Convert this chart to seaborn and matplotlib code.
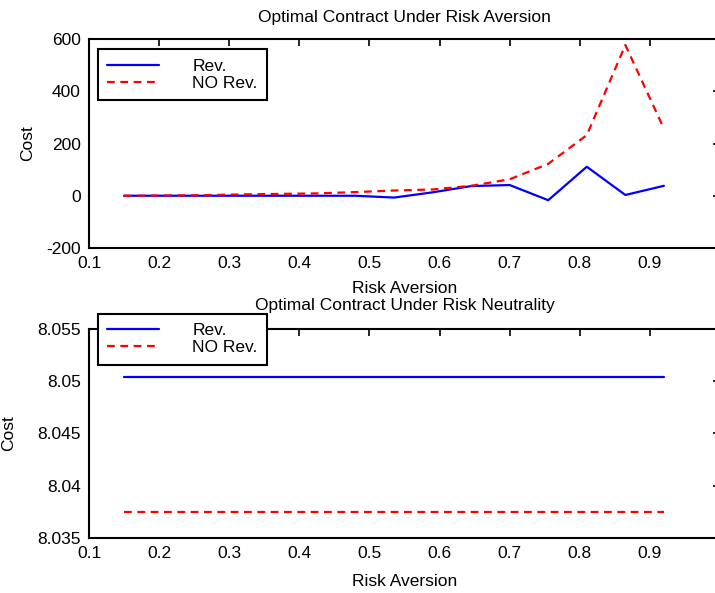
import numpy as np
import pandas as pd
import matplotlib
matplotlib.use("Agg")
import matplotlib.pyplot as plt
import seaborn as sns

# ---- data ----
risk_aversion = [0.15, 0.205, 0.26, 0.315, 0.37, 0.425, 0.48, 0.535,
                 0.59, 0.645, 0.70, 0.755, 0.81, 0.865, 0.92]
cost_rev_averse = [0, 0, 0, 0, 0, 0, 0, -7, 13, 37, 41, -17, 111, 3, 38]
cost_norev_averse = [0, 1, 2, 5, 7, 9, 14, 20, 24, 38, 63, 122, 232, 577, 257]
cost_rev_neutral = [8.0504] * len(risk_aversion)
cost_norev_neutral = [8.0375] * len(risk_aversion)
series_names = ["Rev.", "NO Rev."]
xticks = [0.1, 0.2, 0.3, 0.4, 0.5, 0.6, 0.7, 0.8, 0.9]
yticks_top = [-200, 0, 200, 400, 600]
yticks_bottom = [8.035, 8.04, 8.045, 8.05, 8.055]
ytick_labels_bottom = ["8.035", "8.04", "8.045", "8.05", "8.055"]

sns.set_style("white")
plt.rcParams["font.family"] = ["Liberation Sans Narrow", "Liberation Sans", "DejaVu Sans"]
plt.rcParams["font.size"] = 12
plt.rcParams["axes.unicode_minus"] = False
for k in ["text.color", "axes.labelcolor", "xtick.color", "ytick.color"]:
    plt.rcParams[k] = "black"

fig = plt.figure(figsize=(7.15, 5.93), dpi=100)
W, H = 715, 593

def axpos(left, top, right, bottom):
    return [left / W, 1 - bottom / H, (right - left) / W, (bottom - top) / H]

ax1 = fig.add_axes(axpos(89, 39, 720, 248))
ax2 = fig.add_axes(axpos(89, 329, 720, 538))

df_top = pd.DataFrame({
    "x": risk_aversion * 2,
    "y": cost_rev_averse + cost_norev_averse,
    "s": [series_names[0]] * len(risk_aversion) + [series_names[1]] * len(risk_aversion),
})
df_bot = pd.DataFrame({
    "x": risk_aversion * 2,
    "y": cost_rev_neutral + cost_norev_neutral,
    "s": [series_names[0]] * len(risk_aversion) + [series_names[1]] * len(risk_aversion),
})

palette = {"Rev.": "#0000ff", "NO Rev.": "#ff0000"}
dashes = {"Rev.": "", "NO Rev.": (3.5, 2.5)}

for ax, df, title, yticks, ylim, tpad, xpad in [
    (ax1, df_top, "Optimal Contract Under Risk Aversion", yticks_top, (-200, 600), 12, 7),
    (ax2, df_bot, "Optimal Contract Under Risk Neutrality", yticks_bottom, (8.035, 8.055), 13.5, 9),
]:
    sns.lineplot(data=df, x="x", y="y", hue="s", style="s", palette=palette,
                 dashes=dashes, linewidth=1.6, ax=ax, legend=True)
    ax.set_xlim(0.1, 1.0)
    ax.set_ylim(*ylim)
    ax.set_xticks(xticks)
    ax.set_xticklabels([f"{t:.1f}" for t in xticks])
    ax.set_yticks(yticks)
    ax.set_title(title, fontsize=12.5, pad=tpad, color="black")
    ax.set_xlabel("Risk Aversion", fontsize=12.5, labelpad=xpad)
    ax.set_ylabel("Cost", fontsize=12.5)
    ax.tick_params(direction="in", length=5, width=1.2, top=True, right=True,
                   labelsize=12.5, pad=6, color="black", labelcolor="black")
    for sp in ax.spines.values():
        sp.set_visible(True)
        sp.set_color("black")
        sp.set_linewidth(1.5)

ax2.set_yticklabels(ytick_labels_bottom)
ax1.yaxis.set_label_coords(-0.085, 0.5)
ax2.yaxis.set_label_coords(-0.115, 0.5)

for ax, anchor_y in [(ax1, 0.993), (ax2, 1.115)]:
    leg = ax.legend(loc="upper left", bbox_to_anchor=(0.0, anchor_y),
                    fancybox=False, framealpha=1, edgecolor="black",
                    handlelength=3.0, handletextpad=1.9, borderpad=0.55,
                    labelspacing=0.1, fontsize=12.5, title=None)
    leg.get_frame().set_linewidth(1.5)
    leg.set_zorder(10)

fig.savefig("out.png", dpi=100)
